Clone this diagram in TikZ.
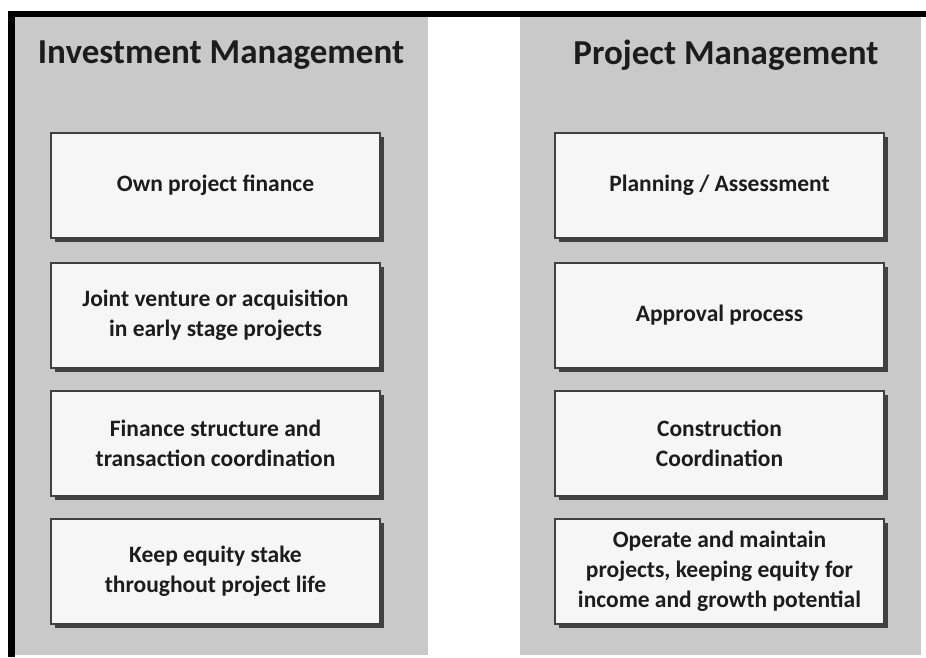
\documentclass[tikz,border=0pt]{standalone}
\usepackage{fontspec}
\setmainfont{Carlito}
\usetikzlibrary{shadows}
\definecolor{panelgray}{RGB}{201,201,201}
\definecolor{boxfill}{RGB}{246,246,246}
\definecolor{txt}{RGB}{28,28,28}
\tikzset{
  itembox/.style={draw=black!75, line width=1.2pt, fill=boxfill,
    minimum width=329pt, minimum height=105pt, align=center, text=txt,
    font=\bfseries\fontsize{23.5}{30}\selectfont,
    drop shadow={shadow xshift=3.5pt, shadow yshift=-3.5pt, fill=black!80, opacity=0.9}},
  title/.style={text=txt, font=\bfseries\fontsize{35}{40}\selectfont}
}
\begin{document}
\begin{tikzpicture}[x=1pt,y=-1pt]
\useasboundingbox (0,0) rectangle (926,657);
\fill[white] (0,0) rectangle (926,657);
\fill[panelgray] (15,17) rectangle (428,655);
\fill[panelgray] (520,17) rectangle (921,655);
\fill[black] (8,11) rectangle (926,17);
\fill[black] (8,11) rectangle (15,657);
\node[title] (t1) at (221,55) {Investment Management};
\node[title] (t2) at (726,55) {Project Management};
\node[itembox] (l1) at (215.5,185.5) {Own project finance};
\node[itembox] (l2) at (215.5,315.5) {Joint venture or acquisition\\in early stage projects};
\node[itembox] (l3) at (215.5,443.5) {Finance structure and\\transaction coordination};
\node[itembox] (l4) at (215.5,571.5) {Keep equity stake\\throughout project life};
\node[itembox] (r1) at (719.5,185.5) {Planning / Assessment};
\node[itembox] (r2) at (719.5,315.5) {Approval process};
\node[itembox] (r3) at (719.5,443.5) {Construction\\Coordination};
\node[itembox] (r4) at (719.5,571.5) {Operate and maintain\\projects, keeping equity for\\income and growth potential};
\end{tikzpicture}
\end{document}
